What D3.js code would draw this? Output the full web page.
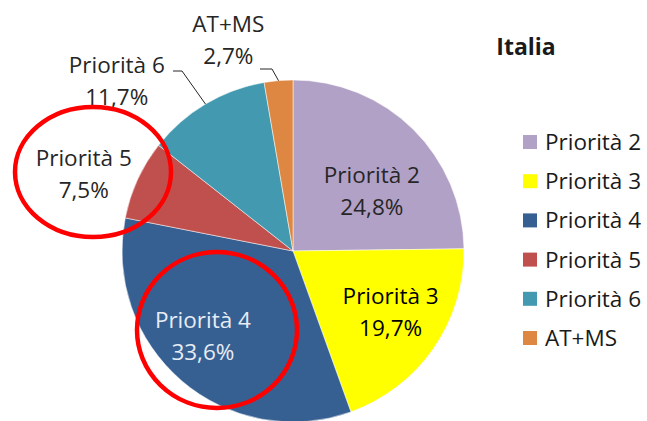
<!DOCTYPE html>
<html>
<head>
<meta charset="utf-8">
<script src="https://cdn.jsdelivr.net/npm/d3@7"></script>
<style>
  body { margin: 0; background: #fff; }
  svg { display: block; font-family: "Open Sans", Lato, sans-serif; }
</style>
</head>
<body>
<div id="chart"></div>
<script>
// data
let categories = ['Priorità 2', 'Priorità 3', 'Priorità 4', 'Priorità 5', 'Priorità 6', 'AT+MS'];
let values = [24.8, 19.7, 33.6, 7.5, 11.7, 2.7];
let colors = ['#b2a1c7', '#ffff00', '#376092', '#c0504d', '#4399b0', '#dd8742'];
let title = 'Italia';

let width = 647;
let height = 421;
let cx = 293, cy = 251, radius = 171;
let fontSize = '22.5px';

let svg = d3.select('#chart')
            .append('svg')
            .attr('width', width)
            .attr('height', height);

let pie = d3.pie().sort(null).value(d => d.value);
let arcs = pie(categories.map((c, i) => ({ name: c, value: values[i], color: colors[i] })));
let arc = d3.arc().innerRadius(0).outerRadius(radius);

let g = svg.append('g').attr('transform', `translate(${cx}, ${cy})`);

g.selectAll('.slice')
 .data(arcs)
 .enter().append('path')
 .attr('class', 'slice')
 .attr('d', arc)
 .attr('fill', d => d.data.color)
 .attr('stroke', '#fff')
 .attr('stroke-width', 0.5);

let fmt = v => v.toFixed(1).replace('.', ',') + '%';
let polar = (a, r) => [r * Math.sin(a), -r * Math.cos(a)];
let deg = Math.PI / 180;

// label placement (angle in degrees from 12 o'clock, distance from centre)
let labelCfg = {
  'Priorità 2': { a: 52.8, r: 99, color: '#262626' },
  'Priorità 3': { a: 121.9, r: 115, color: '#000' },
  'Priorità 4': { a: 226.6, r: 124, color: '#e8ecf4' },
  'Priorità 5': { a: 290.2, r: 223, color: '#262626' },
  'Priorità 6': { a: 314, r: 245, color: '#262626', elbow: [-111, -180], lead: 9 },
  'AT+MS': { a: 343, r: 221, color: '#262626', elbow: [-21, -182], lead: 12 }
};

arcs.forEach(d => {
  let cfg = labelCfg[d.data.name];
  let mid = (d.startAngle + d.endAngle) / 2;
  let pos = polar(cfg.a * deg, cfg.r);
  let t = g.append('text')
           .attr('text-anchor', 'middle')
           .attr('fill', cfg.color)
           .style('font-size', fontSize);
  t.append('tspan').attr('x', pos[0]).attr('y', pos[1] - 8).text(d.data.name);
  t.append('tspan').attr('x', pos[0]).attr('y', pos[1] + 24).text(fmt(d.data.value));

  if (cfg.elbow) {
    let start = polar(mid, radius);
    let e = cfg.elbow;
    g.append('path')
     .attr('d', `M${start[0]},${start[1]}L${e[0]},${e[1]}L${e[0] - cfg.lead},${e[1]}`)
     .attr('fill', 'none')
     .attr('stroke', '#262626')
     .attr('stroke-width', 1);
  }
});

// title
svg.append('text')
   .attr('x', 526)
   .attr('y', 55)
   .attr('text-anchor', 'middle')
   .style('font-size', '23px')
   .style('font-weight', 'bold')
   .attr('fill', '#1a1a1a')
   .text(title);

// legend
let legend = svg.selectAll('.legend')
                .data(categories)
                .enter().append('g')
                .attr('class', 'legend')
                .attr('transform', (d, i) => `translate(523, ${142 + i * 39.2})`);

legend.append('rect')
      .attr('x', 0)
      .attr('y', -7)
      .attr('width', 14)
      .attr('height', 14)
      .attr('fill', (d, i) => colors[i]);

legend.append('text')
      .attr('x', 22)
      .attr('y', 8)
      .style('font-size', fontSize)
      .attr('fill', '#1a1a1a')
      .text(d => d);

// red highlight ellipses
let highlights = [
  { name: 'Priorità 5', cx: 93, cy: 172, rx: 78, ry: 65 },
  { name: 'Priorità 4', cx: 217, cy: 330, rx: 80, ry: 78 }
];
svg.selectAll('.hl')
   .data(highlights)
   .enter().append('ellipse')
   .attr('class', 'hl')
   .attr('cx', d => d.cx)
   .attr('cy', d => d.cy)
   .attr('rx', d => d.rx)
   .attr('ry', d => d.ry)
   .attr('fill', 'none')
   .attr('stroke', '#ff0000')
   .attr('stroke-width', 4.5);
</script>
</body>
</html>
